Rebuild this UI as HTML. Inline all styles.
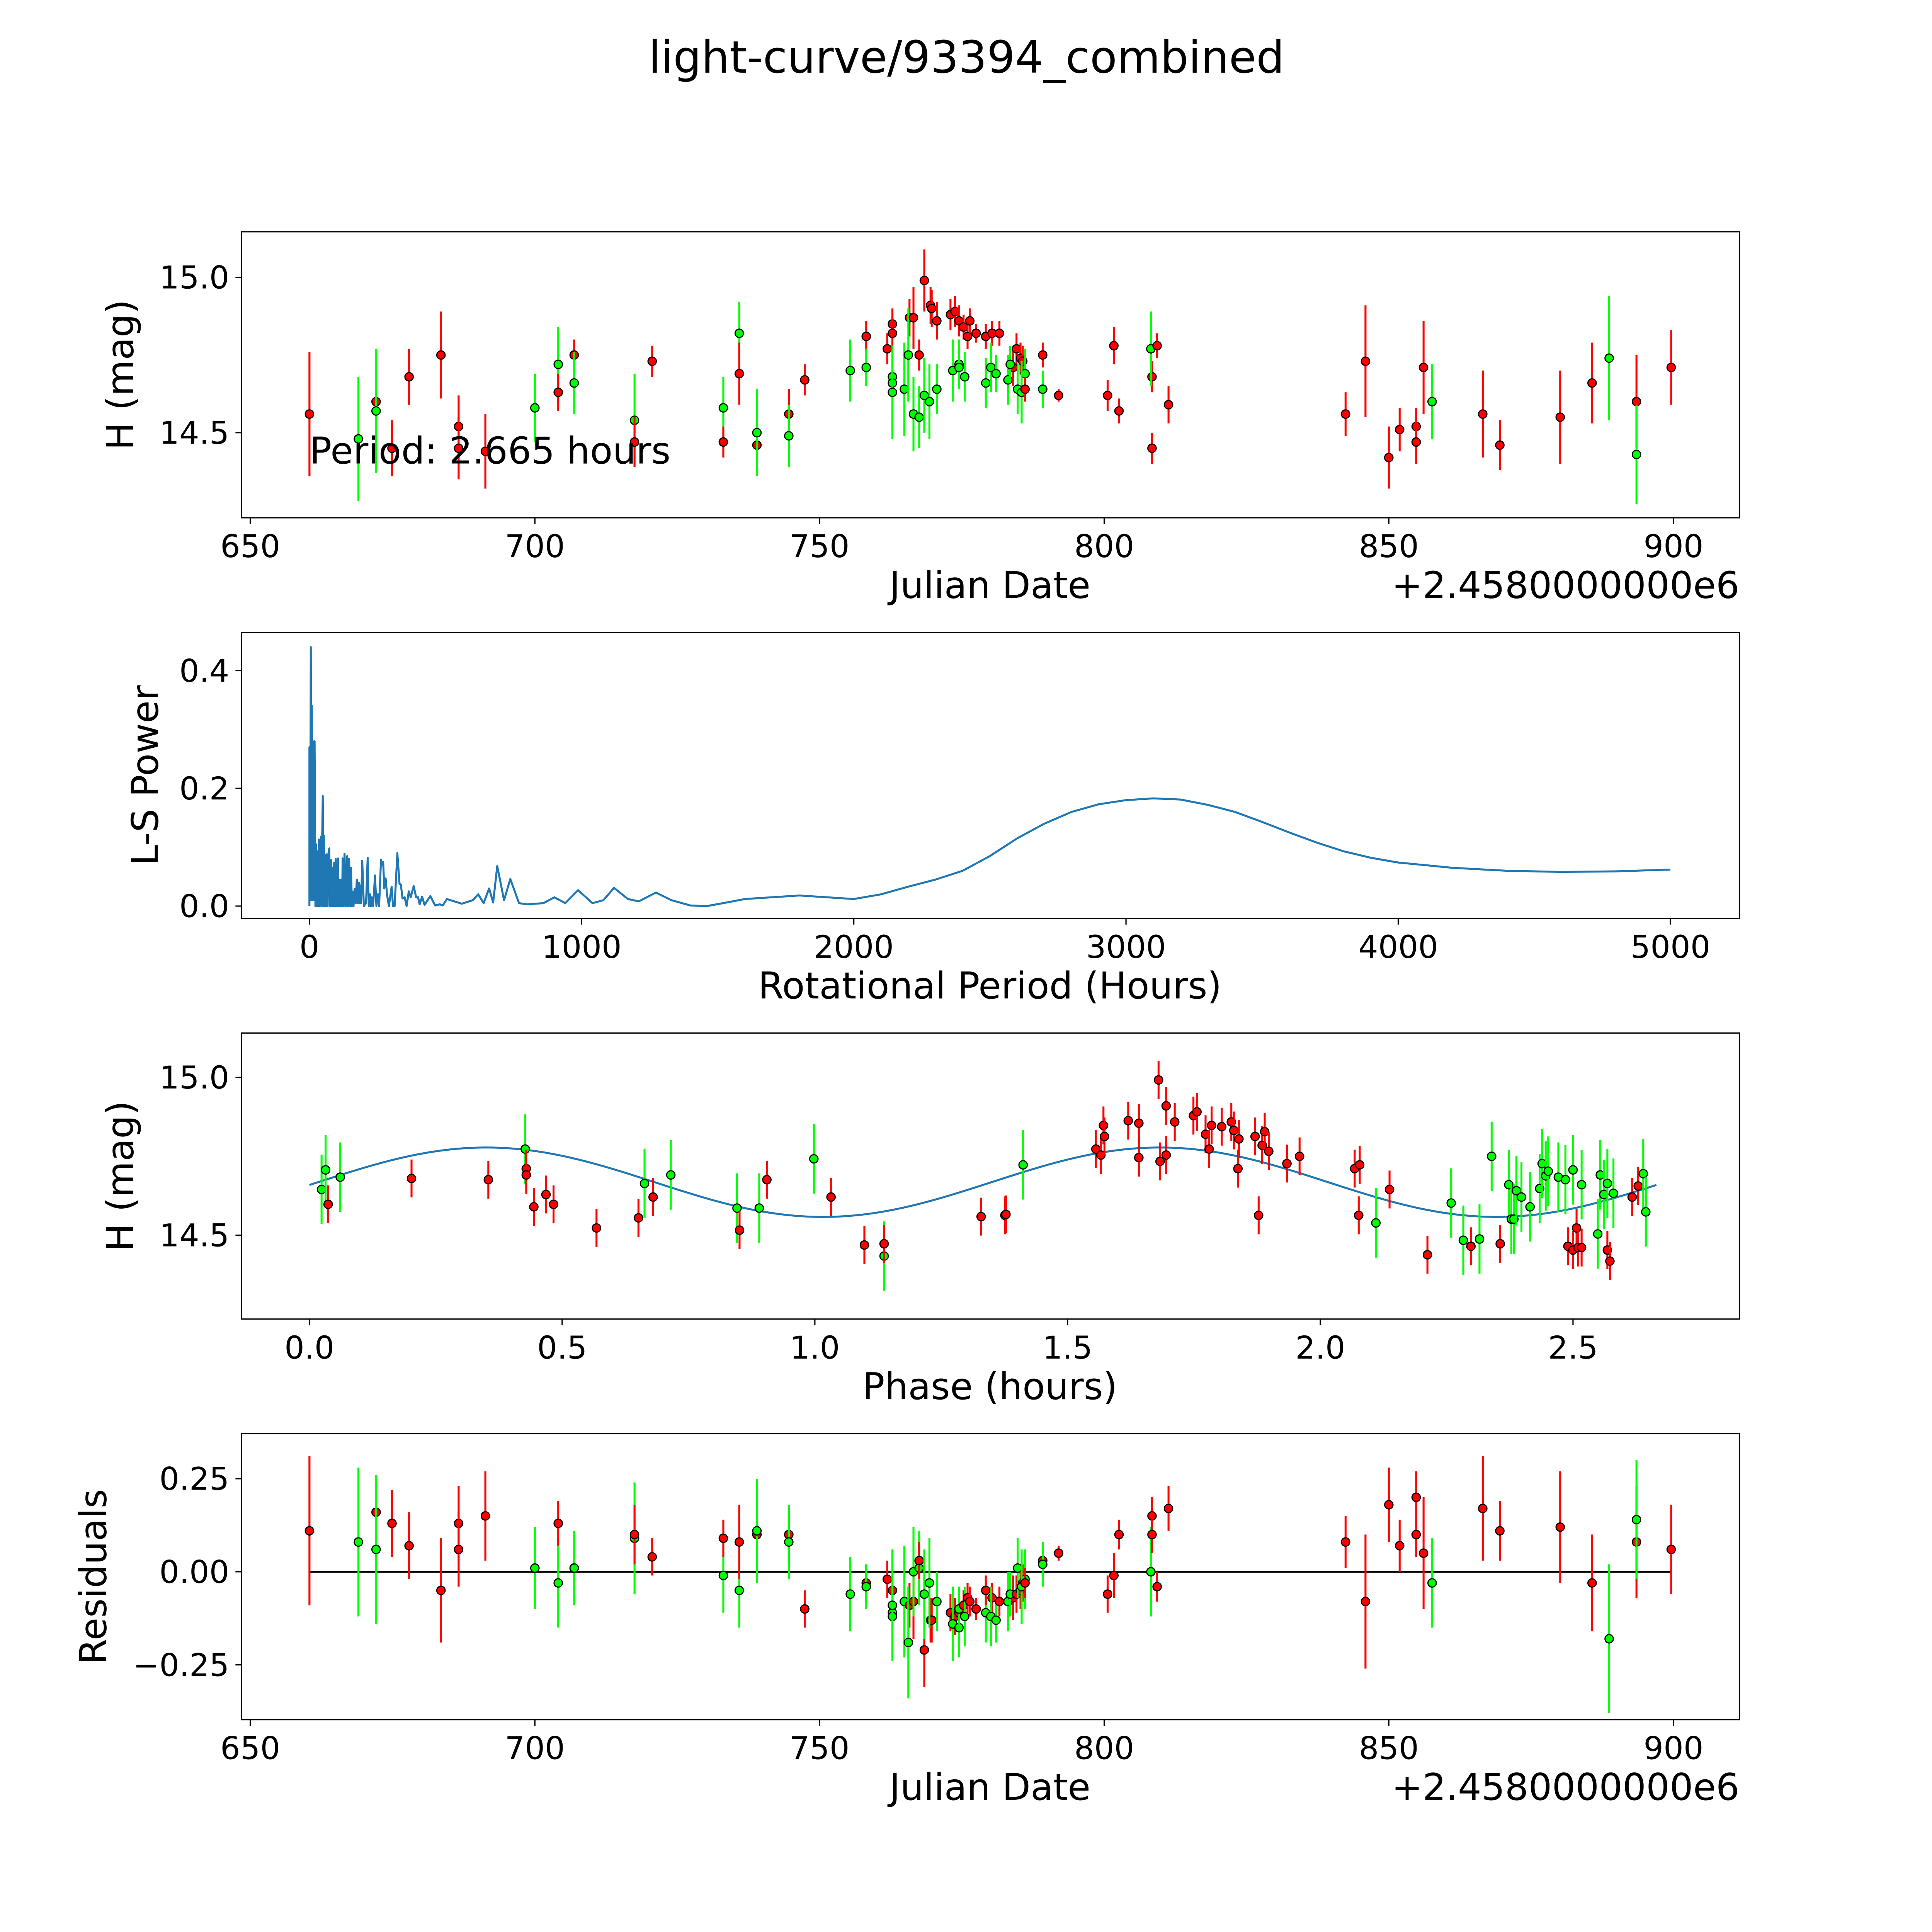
<!DOCTYPE html>
<html><head><meta charset="utf-8"><title>light-curve/93394_combined</title>
<style>
html,body{margin:0;padding:0;background:#fff;width:100%;height:100%;overflow:hidden;}
svg{display:block;position:absolute;left:0;top:0;width:4977px;height:4977px;font-family:"DejaVu Sans","Liberation Sans",sans-serif;}
</style></head>
<body>
<svg id="fig" width="4977" height="4977" viewBox="0 0 1560 1560" preserveAspectRatio="none" xmlns="http://www.w3.org/2000/svg">
<rect x="0" y="0" width="1560" height="1560" fill="#fff"/>
<text x="784" y="59" font-size="36" text-anchor="middle">light-curve/93394_combined</text>
</svg>
<script>
// ---------- Panel 1 / 4 data: observations ----------
const obsJD = [660.4,669.0,672.1,672.1,674.9,677.9,683.5,686.6,686.6,691.3,700.0,704.1,704.1,706.9,706.9,717.5,717.5,720.6,733.1,733.1,735.9,735.9,739.0,739.0,744.6,744.6,747.4,755.4,758.2,758.2,761.9,762.8,762.8,762.8,762.8,762.8,764.9,765.8,765.6,766.5,766.5,767.5,767.5,768.4,768.4,769.5,769.7,769.3,770.6,770.6,773.0,773.8,773.4,774.5,774.5,774.5,775.3,775.5,776.0,776.4,777.5,779.2,779.2,780.3,780.1,781.0,781.6,783.1,784.0,783.5,784.6,785.3,784.8,785.7,786.1,785.5,786.1,789.2,789.2,792.0,800.6,801.7,802.6,808.4,808.2,809.3,808.4,811.3,842.4,845.9,850.0,851.9,854.8,854.8,856.1,857.6,866.5,869.5,880.1,885.7,888.7,893.5,893.5,899.6];
const obsMag = [14.56,14.48,14.60,14.57,14.45,14.68,14.75,14.52,14.45,14.44,14.58,14.72,14.63,14.75,14.66,14.54,14.47,14.73,14.58,14.47,14.82,14.69,14.46,14.50,14.56,14.49,14.67,14.70,14.81,14.71,14.77,14.85,14.82,14.68,14.66,14.63,14.64,14.87,14.75,14.87,14.56,14.55,14.75,14.99,14.62,14.91,14.90,14.60,14.86,14.64,14.88,14.89,14.70,14.86,14.72,14.71,14.84,14.68,14.81,14.86,14.82,14.66,14.81,14.82,14.71,14.69,14.82,14.67,14.71,14.72,14.77,14.74,14.64,14.73,14.69,14.63,14.64,14.75,14.64,14.62,14.62,14.78,14.57,14.68,14.77,14.78,14.45,14.59,14.56,14.73,14.42,14.51,14.52,14.47,14.71,14.60,14.56,14.46,14.55,14.66,14.74,14.60,14.43,14.71];
const obsErr = [0.2,0.2,0.1,0.2,0.09,0.09,0.14,0.1,0.1,0.12,0.11,0.12,0.06,0.05,0.1,0.15,0.08,0.05,0.1,0.05,0.1,0.1,0.09,0.14,0.08,0.1,0.05,0.1,0.05,0.06,0.05,0.05,0.06,0.1,0.12,0.15,0.15,0.06,0.15,0.1,0.12,0.1,0.05,0.1,0.12,0.06,0.06,0.12,0.06,0.08,0.05,0.05,0.1,0.05,0.08,0.06,0.04,0.08,0.04,0.04,0.03,0.08,0.04,0.04,0.08,0.06,0.04,0.08,0.06,0.06,0.05,0.05,0.08,0.05,0.08,0.1,0.04,0.04,0.06,0.02,0.05,0.06,0.04,0.05,0.12,0.04,0.05,0.06,0.07,0.18,0.1,0.07,0.06,0.07,0.15,0.12,0.14,0.08,0.15,0.13,0.2,0.15,0.16,0.12];
const obsBand = ["r","g","r","g","r","r","r","r","r","r","g","g","r","r","g","g","r","r","g","r","g","r","r","g","r","g","r","g","r","g","r","r","r","g","g","g","g","r","g","r","g","g","r","r","g","r","r","g","r","g","r","r","g","r","g","g","r","g","r","r","r","g","r","r","g","g","r","g","r","g","r","r","g","r","g","g","r","r","g","r","r","r","r","r","g","r","r","r","r","r","r","r","r","r","r","g","r","r","r","r","g","r","g","r"];
const obsRes = [0.11,0.08,0.16,0.06,0.13,0.07,-0.05,0.13,0.06,0.15,0.01,-0.03,0.13,0.01,0.01,0.09,0.10,0.04,-0.01,0.09,-0.05,0.08,0.10,0.11,0.10,0.08,-0.10,-0.06,-0.03,-0.04,-0.02,-0.05,-0.09,-0.11,-0.12,-0.09,-0.08,-0.09,-0.19,-0.08,0.00,0.01,0.03,-0.21,-0.06,-0.13,-0.13,-0.03,-0.08,-0.08,-0.11,-0.12,-0.14,-0.11,-0.15,-0.10,-0.09,-0.12,-0.07,-0.08,-0.10,-0.11,-0.05,-0.07,-0.12,-0.13,-0.08,-0.08,-0.07,-0.06,-0.06,-0.05,0.01,-0.03,-0.02,-0.04,-0.03,0.03,0.02,0.05,-0.06,-0.01,0.10,0.15,0.00,-0.04,0.10,0.17,0.08,-0.08,0.18,0.07,0.10,0.20,0.05,-0.03,0.17,0.11,0.12,-0.03,-0.18,0.08,0.14,0.06];

// ---------- Panel 2 data: Lomb-Scargle ----------
const lsPeriod = [0,0,3,5,7,9,11,13,16,19,22,24,27,30,32,35,38,42,45,47,49,51,53,55,58,61,64,67,70,73,76,80,83,85,88,91,94,97,101,105,108,111,114,117,120,122,126,129,134,139,142,146,150,153,156,159,162,166,170,174,178,182,185,187,190,194,200,208,214,218,222,226,229,234,241,246,252,256,263,267,271,275,280,285,292,302,307,313,323,331,336,342,350,357,365,372,383,392,399,405,414,423,444,462,479,490,505,560,600,620,640,660,675,690,715,738,770,800,860,900,940,987,1040,1080,1119,1170,1210,1273,1330,1400,1460,1520,1600,1700,1800,1900,2000,2100,2200,2300,2400,2500,2600,2700,2800,2900,3000,3100,3200,3300,3400,3500,3600,3700,3800,3900,4000,4200,4400,4600,4800,5000];
const lsPower = [0,0.27,0.02,0.44,0.01,0.34,0.01,0.28,0.01,0.28,0,0.105,0,0.093,0,0.113,0,0.118,0,0.12,0.187,0,0.12,0,0.087,0,0.088,0,0.09,0.098,0,0.078,0,0.065,0,0.074,0,0.08,0,0.081,0,0.045,0,0.045,0,0.081,0,0.089,0,0.085,0,0.08,0,0.065,0,0.024,0,0.029,0.005,0.045,0.005,0.04,0.005,0.035,0.005,0.077,0,0.005,0.082,0,0.02,0,0.015,0,0.052,0,0.02,0,0.079,0.07,0.075,0.03,0.047,0.02,0,0.033,0,0,0.09,0.038,0.036,0.013,0.015,0,0.025,0.015,0.034,0.015,0.015,0.003,0.016,0.002,0.017,0.001,0.003,0.001,0.012,0.004,0.01,0.02,0.005,0.03,0.006,0.068,0.01,0.046,0.005,0.003,0.005,0.015,0.005,0.027,0.005,0.01,0.031,0.012,0.008,0.023,0.01,0.001,0,0.005,0.012,0.015,0.018,0.015,0.012,0.02,0.033,0.045,0.06,0.085,0.115,0.14,0.16,0.173,0.18,0.183,0.181,0.172,0.16,0.143,0.125,0.108,0.093,0.082,0.074,0.065,0.06,0.058,0.059,0.062];

// ---------- Panel 3 data: phase-folded ----------
const phPhase = [0.024,0.032,0.037,0.061,0.202,0.354,0.427,0.429,0.429,0.444,0.468,0.483,0.568,0.651,0.663,0.680,0.715,0.846,0.851,0.890,0.905,0.998,1.032,1.098,1.137,1.137,1.329,1.376,1.378,1.412,1.556,1.566,1.571,1.573,1.620,1.641,1.641,1.680,1.683,1.695,1.695,1.712,1.749,1.756,1.773,1.780,1.785,1.805,1.824,1.829,1.837,1.839,1.871,1.878,1.885,1.890,1.898,1.934,1.959,2.068,2.078,2.076,2.110,2.137,2.212,2.259,2.283,2.298,2.315,2.356,2.339,2.373,2.378,2.383,2.388,2.398,2.415,2.434,2.439,2.446,2.451,2.471,2.485,2.500,2.517,2.490,2.500,2.507,2.510,2.517,2.549,2.554,2.561,2.568,2.580,2.568,2.573,2.617,2.629,2.639,2.644];
const phMag = [14.645,14.707,14.598,14.684,14.680,14.676,14.773,14.711,14.691,14.590,14.629,14.598,14.523,14.555,14.664,14.621,14.691,14.586,14.516,14.586,14.676,14.742,14.621,14.469,14.434,14.473,14.559,14.563,14.566,14.723,14.773,14.754,14.848,14.813,14.863,14.746,14.855,14.992,14.734,14.910,14.754,14.859,14.879,14.891,14.820,14.773,14.848,14.844,14.859,14.832,14.711,14.805,14.813,14.563,14.785,14.828,14.766,14.727,14.750,14.711,14.723,14.563,14.539,14.645,14.438,14.602,14.484,14.465,14.488,14.473,14.750,14.660,14.551,14.551,14.641,14.621,14.590,14.648,14.727,14.688,14.703,14.684,14.676,14.707,14.660,14.465,14.453,14.523,14.461,14.461,14.504,14.691,14.629,14.664,14.633,14.453,14.418,14.621,14.656,14.695,14.574];
const phBand = ["g","g","r","g","r","r","g","r","r","r","r","r","r","r","g","r","g","g","r","g","r","g","r","r","g","r","r","r","r","g","r","r","r","r","r","r","r","r","r","r","r","r","r","r","r","r","r","r","r","r","r","r","r","r","r","r","r","r","r","r","r","r","g","r","r","g","g","r","g","r","g","g","g","g","g","g","g","g","g","g","g","g","g","g","g","r","r","r","r","r","g","g","g","g","g","r","r","r","r","g","g"];
const phErr = phBand.map(function(b){ return b === "g" ? 0.11 : 0.06; });
// sinusoidal model: [mean, amplitude, phase of maximum, half-period (hours), full period (hours)]
const modelParams = [14.668, 0.11, 0.35, 1.3325, 2.665];

// ---------- tick labels ----------
const jdTicks = [650,700,750,800,850,900];
const magTicks = [14.5,15.0];
const lsXTicks = [0,1000,2000,3000,4000,5000];
const lsYTicks = [0.0,0.2,0.4];
const phTicks = [0.0,0.5,1.0,1.5,2.0,2.5];
const resTicks = [-0.25,0.00,0.25];

// ---------- axis functions ----------
const L = 196, R = 1411;
const xJD = j => 203 + (j - 650) * 4.618;
const yMag1 = m => 225 + (15 - m) * 252;
const xLS = p => 251 + p * 0.2208;
const yLS = w => 735 - w * 477.5;
const xPh = p => 251 + p * 410;
const yMag3 = m => 874 + (15 - m) * 256;
const yRes = r => 1275 - r * 302;

const NS = "http://www.w3.org/2000/svg";
const svg = document.getElementById("fig");
function mk(tag, attrs, parent) {
  const e = document.createElementNS(NS, tag);
  for (const k in attrs) e.setAttribute(k, attrs[k]);
  (parent || svg).appendChild(e);
  return e;
}
const COL = {r: "#ff0000", g: "#00ff00"};
const TICK_FS = 25.5, LAB_FS = 30;

function frame(top, h, name) {
  const g = mk("g", {});
  
  
  const r = mk("rect", {x: L, y: top, width: R - L, height: h, fill: "none", stroke: "#000", "stroke-width": 1}, g);
  
  
  return g;
}
function xTicks(g, vals, fx, bottom, fmt) {
  vals.forEach(v => {
    const x = fx(v);
    const t = mk("line", {x1: x, x2: x, y1: bottom, y2: bottom + 5, stroke: "#000", "stroke-width": 1}, g);
    
    
    const tx = mk("text", {x: x, y: bottom + 32, "font-size": TICK_FS, "text-anchor": "middle"}, g);
    tx.textContent = fmt(v);
    
    
  });
}
function yTicks(g, vals, fy, fmt) {
  vals.forEach(v => {
    const y = fy(v);
    const t = mk("line", {x1: L - 5, x2: L, y1: y, y2: y, stroke: "#000", "stroke-width": 1}, g);
    
    
    const tx = mk("text", {x: L - 10, y: y + 9, "font-size": TICK_FS, "text-anchor": "end"}, g);
    tx.textContent = fmt(v);
    
    
  });
}
function label(g, text, x, y, rot, name) {
  const t = mk("text", {x: x, y: y, "font-size": LAB_FS, "text-anchor": "middle"}, g);
  if (rot) t.setAttribute("transform", "rotate(-90 " + x + " " + y + ")");
  t.textContent = text;
  
  
  return t;
}
function point(g, x, y, yLo, yHi, band) {
  const eb = mk("line", {x1: x, x2: x, y1: yLo, y2: yHi, stroke: COL[band], "stroke-width": 1.6}, g);
  
  
  const c = mk("circle", {cx: x, cy: y, r: 3.4, fill: COL[band], stroke: "#000", "stroke-width": 0.9}, g);
  
  
}
const f1 = v => v.toFixed(1);
const f0 = v => String(v);
const f2 = v => (v < 0 ? "\u2212" : "") + Math.abs(v).toFixed(2);

// ---------- Panel 1 ----------
const g1 = frame(188, 232, "light-curve-panel");
obsJD.forEach((j, i) => {
  point(g1, xJD(j), yMag1(obsMag[i]), yMag1(obsMag[i] - obsErr[i]), yMag1(obsMag[i] + obsErr[i]), obsBand[i]);
});
xTicks(g1, jdTicks, xJD, 420, f0);
yTicks(g1, magTicks, yMag1, f1);
label(g1, "Julian Date", 803, 485, false, "x-axis-title");
label(g1, "H (mag)", 108, 304, true, "y-axis-title");
const off1 = mk("text", {x: 1411, y: 485, "font-size": LAB_FS, "text-anchor": "end"}, g1);
off1.textContent = "+2.4580000000e6";


const per = mk("text", {x: 251, y: 376, "font-size": LAB_FS}, g1);
per.textContent = "Period: 2.665 hours";



// ---------- Panel 2 ----------
const g2 = frame(513, 232, "periodogram-panel");
const ls = mk("polyline", {points: lsPeriod.map((p, i) => xLS(p).toFixed(2) + "," + yLS(lsPower[i]).toFixed(2)).join(" "), fill: "none", stroke: "#1f77b4", "stroke-width": 1.6, "stroke-linejoin": "round"}, g2);


xTicks(g2, lsXTicks, xLS, 745, f0);
yTicks(g2, lsYTicks, yLS, f1);
label(g2, "Rotational Period (Hours)", 803, 810, false, "x-axis-title");
label(g2, "L-S Power", 128, 629, true, "y-axis-title");

// ---------- Panel 3 ----------
const g3 = frame(838, 232, "phase-folded-panel");
const modelPts = [];
for (let k = 0; k <= 200; k++) {
  const p = modelParams[4] * k / 200;
  const m = modelParams[0] + modelParams[1] * Math.cos(2 * Math.PI * (p - modelParams[2]) / modelParams[3]);
  modelPts.push(xPh(p).toFixed(2) + "," + yMag3(m).toFixed(2));
}
const mdl = mk("polyline", {points: modelPts.join(" "), fill: "none", stroke: "#1f77b4", "stroke-width": 1.6}, g3);


phPhase.forEach((p, i) => {
  point(g3, xPh(p), yMag3(phMag[i]), yMag3(phMag[i] - phErr[i]), yMag3(phMag[i] + phErr[i]), phBand[i]);
});
xTicks(g3, phTicks, xPh, 1070, f1);
yTicks(g3, magTicks, yMag3, f1);
label(g3, "Phase (hours)", 803, 1135, false, "x-axis-title");
label(g3, "H (mag)", 108, 954, true, "y-axis-title");

// ---------- Panel 4 ----------
const g4 = frame(1163, 232, "residuals-panel");
const zl = mk("line", {x1: xJD(obsJD[0]), x2: xJD(obsJD[obsJD.length - 1]), y1: yRes(0), y2: yRes(0), stroke: "#000", "stroke-width": 1.4}, g4);


obsJD.forEach((j, i) => {
  point(g4, xJD(j), yRes(obsRes[i]), yRes(obsRes[i] - obsErr[i]), yRes(obsRes[i] + obsErr[i]), obsBand[i]);
});
xTicks(g4, jdTicks, xJD, 1395, f0);
yTicks(g4, resTicks, yRes, f2);
label(g4, "Julian Date", 803, 1460, false, "x-axis-title");
label(g4, "Residuals", 86, 1279, true, "y-axis-title");
const off4 = mk("text", {x: 1411, y: 1460, "font-size": LAB_FS, "text-anchor": "end"}, g4);
off4.textContent = "+2.4580000000e6";


</script>
</body></html>
